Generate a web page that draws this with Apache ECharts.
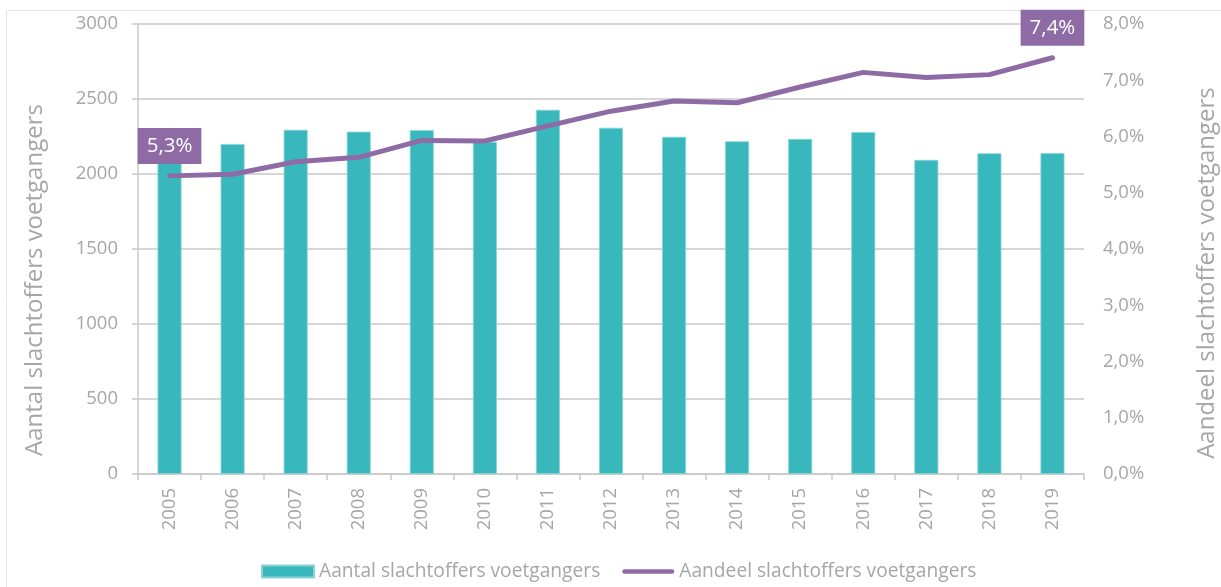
<!DOCTYPE html>
<html>
<head>
<meta charset="utf-8">
<script src="https://cdn.jsdelivr.net/npm/echarts@6/dist/echarts.min.js"></script>
<style>
  html, body { margin: 0; padding: 0; background: #ffffff; }
  #chart { width: 1221px; height: 587px; }
</style>
</head>
<body>
<div id="chart"></div>
<script>
// Pedestrian casualties per year (count) and their share of all casualties (%)
const years = ['2005','2006','2007','2008','2009','2010','2011','2012','2013','2014','2015','2016','2017','2018','2019'];
const aantal = [2150, 2200, 2295, 2282, 2292, 2215, 2428, 2308, 2248, 2218, 2234, 2280, 2094, 2138, 2140];
const aandeel = [5.3, 5.33, 5.55, 5.63, 5.93, 5.92, 6.19, 6.45, 6.63, 6.6, 6.88, 7.14, 7.05, 7.1, 7.4];
const leftTicks = [0, 500, 1000, 1500, 2000, 2500, 3000];
const rightTicks = [0, 1, 2, 3, 4, 5, 6, 7, 8];

const nameBar = 'Aantal slachtoffers voetgangers';
const nameLine = 'Aandeel slachtoffers voetgangers';

const teal = '#38b8bd';
const purple = '#8f6ba6';
const grey = '#a6a6a6';
const gridGrey = '#c9c9c9';
const fontFamily = '"Open Sans", "Noto Sans", sans-serif';

const pct = v => v.toFixed(1).replace('.', ',') + '%';

const chart = echarts.init(document.getElementById('chart'), null, { renderer: 'canvas' });

const lastIdx = aandeel.length - 1;
const lineData = aandeel.map((v, i) =>
  (i === 0 || i === lastIdx) ? { value: v, label: { show: true } } : v);

chart.setOption({
  animation: false,
  textStyle: { fontFamily: fontFamily },
  graphic: [
    {
      type: 'rect', silent: true,
      shape: { x: 6.5, y: 10.5, width: 1240, height: 620 },
      style: { fill: 'none', stroke: '#e4e4e4', lineWidth: 1 }
    },
    {
      type: 'text', silent: true,
      x: 35, y: 280, rotation: Math.PI / 2,
      style: { text: nameBar, fill: grey, font: '24px ' + fontFamily, align: 'center', verticalAlign: 'middle' }
    },
    {
      type: 'text', silent: true,
      x: 1207, y: 273, rotation: Math.PI / 2,
      style: { text: nameLine, fill: grey, font: '24px ' + fontFamily, align: 'center', verticalAlign: 'middle' }
    }
  ],
  grid: { left: 138, right: 137, top: 24, bottom: 113, containLabel: false },
  legend: {
    left: 256, top: 557,
    itemWidth: 52, itemHeight: 12, itemGap: 22,
    textStyle: { color: grey, fontSize: 19.2, fontFamily: fontFamily },
    data: [
      { name: nameBar, icon: 'rect' },
      { name: nameLine, icon: 'path://M2,0 L54,0 A2,2 0 0 1 54,5 L2,5 A2,2 0 0 1 2,0 Z' }
    ]
  },
  xAxis: {
    type: 'category',
    data: years,
    boundaryGap: true,
    axisLine: { lineStyle: { color: gridGrey, width: 1.5 } },
    axisTick: { show: true, length: 6, lineStyle: { color: gridGrey, width: 1.5 } },
    axisLabel: { rotate: 90, color: grey, fontSize: 18.5, margin: 14 }
  },
  yAxis: [
    {
      type: 'value', min: leftTicks[0], max: leftTicks[leftTicks.length - 1], interval: leftTicks[1] - leftTicks[0],
      axisLine: { show: true, lineStyle: { color: gridGrey, width: 1.5 } },
      axisTick: { show: true, length: 6, lineStyle: { color: gridGrey, width: 1.5 } },
      splitLine: { lineStyle: { color: gridGrey, width: 1.5 } },
      axisLabel: { color: grey, fontSize: 18.5, margin: 20, formatter: v => String(v) }
    },
    {
      type: 'value', min: rightTicks[0], max: rightTicks[rightTicks.length - 1], interval: rightTicks[1] - rightTicks[0],
      position: 'right',
      axisLine: { show: false },
      axisTick: { show: false },
      splitLine: { show: false },
      axisLabel: { color: grey, fontSize: 18.5, margin: 19, formatter: pct }
    }
  ],
  series: [
    {
      name: nameBar,
      type: 'bar',
      data: aantal,
      barWidth: 24,
      itemStyle: { color: teal, borderColor: '#8ad4d7', borderWidth: 0.8 }
    },
    {
      name: nameLine,
      type: 'line',
      yAxisIndex: 1,
      data: lineData,
      symbol: 'circle',
      symbolSize: 0,
      showSymbol: true,
      lineStyle: { color: purple, width: 5, cap: 'round', join: 'round' },
      itemStyle: { color: purple },
      label: {
        show: false,
        position: 'top',
        distance: 12,
        formatter: p => pct(p.value),
        backgroundColor: purple,
        color: '#ffffff',
        fontSize: 20.5,
        lineHeight: 22,
        fontFamily: fontFamily,
        padding: [7, 9, 7, 9]
      },
      z: 5
    }
  ]
});
</script>
</body>
</html>
